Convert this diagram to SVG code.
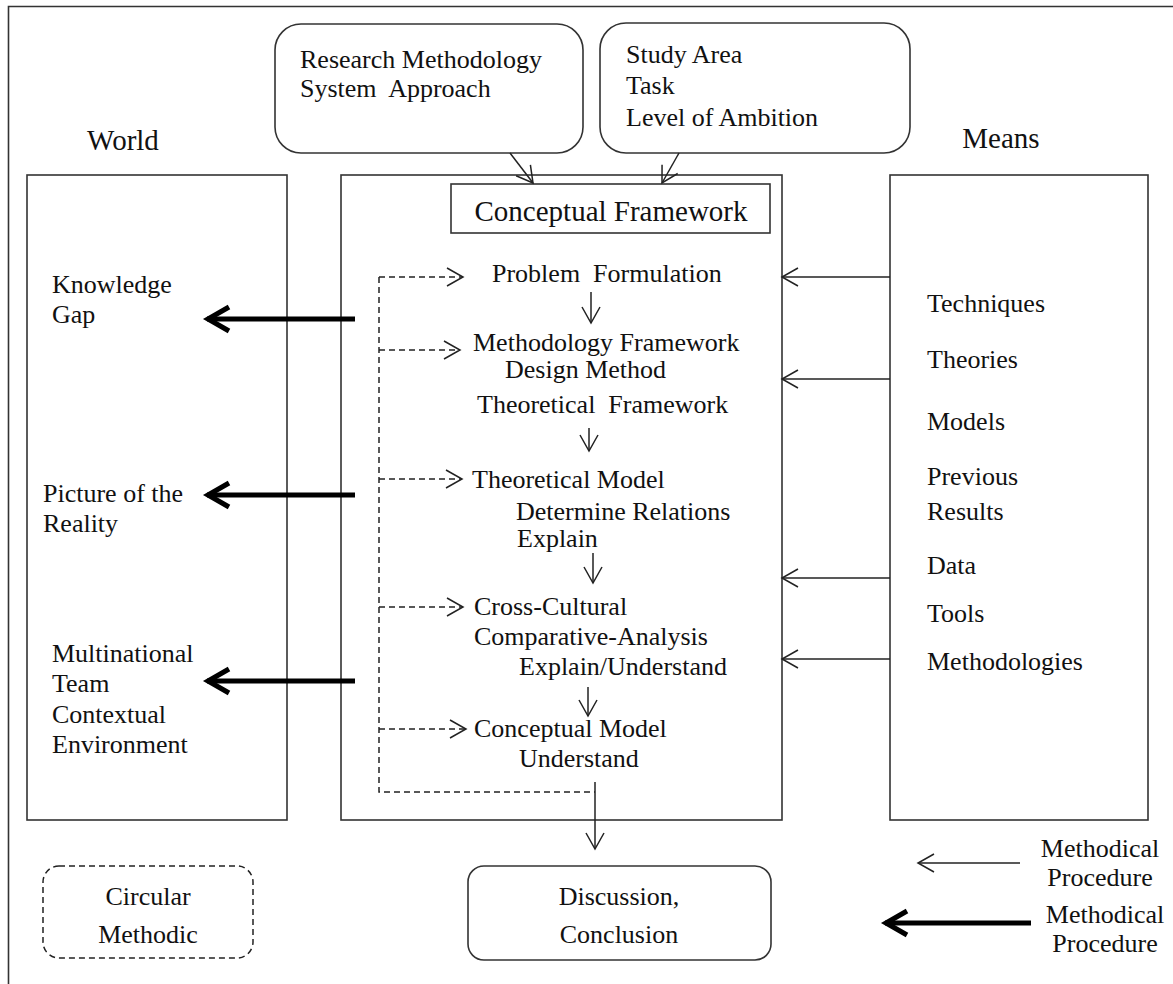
<svg xmlns="http://www.w3.org/2000/svg" width="1173" height="984" viewBox="0 0 1173 984">
<style>
text{font-family:"Liberation Serif","Times New Roman",serif;font-size:26px;fill:#111}
.box{fill:none;stroke:#333;stroke-width:1.6}
.ln{fill:none;stroke:#222;stroke-width:1.5}
.thick{fill:none;stroke:#000;stroke-width:5}
.dash{fill:none;stroke:#222;stroke-width:1.5;stroke-dasharray:6,4}
.mid{text-anchor:middle}
</style>
<defs>
<marker id="a" markerUnits="userSpaceOnUse" markerWidth="40" markerHeight="40" refX="0" refY="0" orient="auto" overflow="visible">
<path d="M-16,-9 L0,0 L-16,9" fill="none" stroke="#222" stroke-width="1.5"/>
</marker>
<marker id="t" markerUnits="userSpaceOnUse" markerWidth="60" markerHeight="60" refX="0" refY="0" orient="auto" overflow="visible">
<path d="M-22,-12 L-1,0 L-22,12" fill="none" stroke="#000" stroke-width="5"/>
</marker>
</defs>
<rect width="1173" height="984" fill="#fff"/>
<path class="box" d="M8.5,984 V6.5 H1173"/>

<g id="world">
<rect class="box" x="27" y="175" width="260" height="645"/>
<text x="123" y="150" class="mid" style="font-size:29px">World</text>
<text x="52" y="293">Knowledge</text>
<text x="52" y="323">Gap</text>
<text x="43" y="502">Picture of the</text>
<text x="43" y="532">Reality</text>
<text x="52" y="662">Multinational</text>
<text x="52" y="692">Team</text>
<text x="52" y="723">Contextual</text>
<text x="52" y="753">Environment</text>
</g>

<g id="means">
<rect class="box" x="890" y="175" width="258" height="645"/>
<text x="1001" y="148" class="mid" style="font-size:29px">Means</text>
<text x="927" y="312">Techniques</text>
<text x="927" y="368">Theories</text>
<text x="927" y="430">Models</text>
<text x="927" y="485">Previous</text>
<text x="927" y="520">Results</text>
<text x="927" y="574">Data</text>
<text x="927" y="622">Tools</text>
<text x="927" y="670">Methodologies</text>
</g>

<g id="research">
<rect class="box" x="275" y="24" width="308" height="129" rx="26"/>
<text x="300" y="68">Research Methodology</text>
<text x="300" y="97" xml:space="preserve">System  Approach</text>
</g>

<g id="study">
<rect class="box" x="600" y="23" width="310" height="130" rx="26"/>
<text x="626" y="63">Study Area</text>
<text x="626" y="94">Task</text>
<text x="626" y="126">Level of Ambition</text>
</g>

<g id="central">
<rect class="box" x="341" y="175" width="441" height="645"/>
</g>

<g id="framework">
<rect class="box" x="451" y="184" width="319" height="49"/>
<text x="611" y="221" class="mid" style="font-size:29px">Conceptual Framework</text>
</g>

<g id="steps">
<text x="492" y="282" xml:space="preserve">Problem  Formulation</text>
<text x="473" y="351">Methodology Framework</text>
<text x="505" y="378">Design Method</text>
<text x="477" y="413" xml:space="preserve">Theoretical  Framework</text>
<text x="472" y="488">Theoretical Model</text>
<text x="516" y="520">Determine Relations</text>
<text x="517" y="547">Explain</text>
<text x="474" y="615">Cross-Cultural</text>
<text x="474" y="645">Comparative-Analysis</text>
<text x="519" y="675">Explain/Understand</text>
<text x="474" y="737">Conceptual Model</text>
<text x="519" y="767">Understand</text>
</g>

<g id="circular">
<rect class="dash" x="43" y="866" width="210" height="92" rx="16"/>
<text x="148" y="905" class="mid">Circular</text>
<text x="148" y="943" class="mid">Methodic</text>
</g>

<g id="discussion">
<rect class="box" x="468" y="866" width="303" height="94" rx="16"/>
<text x="619" y="905" class="mid">Discussion,</text>
<text x="619" y="943" class="mid">Conclusion</text>
</g>

<g id="legend">
<text x="1100" y="857" class="mid">Methodical</text>
<text x="1100" y="886" class="mid">Procedure</text>
<text x="1105" y="923" class="mid">Methodical</text>
<text x="1105" y="952" class="mid">Procedure</text>
</g>

<g id="connectors">
<line class="ln" x1="510" y1="153" x2="533" y2="183" marker-end="url(#a)"/>
<line class="ln" x1="679" y1="153" x2="662" y2="183" marker-end="url(#a)"/>

<line class="ln" x1="591" y1="292" x2="591" y2="323" marker-end="url(#a)"/>
<line class="ln" x1="589" y1="428" x2="589" y2="451" marker-end="url(#a)"/>
<line class="ln" x1="593" y1="553" x2="593" y2="583" marker-end="url(#a)"/>
<line class="ln" x1="588" y1="687" x2="588" y2="716" marker-end="url(#a)"/>

<line class="ln" x1="890" y1="277" x2="782" y2="277" marker-end="url(#a)"/>
<line class="ln" x1="890" y1="379" x2="782" y2="379" marker-end="url(#a)"/>
<line class="ln" x1="890" y1="578" x2="782" y2="578" marker-end="url(#a)"/>
<line class="ln" x1="890" y1="659" x2="782" y2="659" marker-end="url(#a)"/>

<line class="thick" x1="355" y1="319" x2="207" y2="319" marker-end="url(#t)"/>
<line class="thick" x1="355" y1="495" x2="207" y2="495" marker-end="url(#t)"/>
<line class="thick" x1="355" y1="681" x2="207" y2="681" marker-end="url(#t)"/>

<path class="dash" d="M379,277 V792 H595"/>
<line class="dash" x1="379" y1="277" x2="463" y2="277" marker-end="url(#a)"/>
<line class="dash" x1="379" y1="350" x2="460" y2="350" marker-end="url(#a)"/>
<line class="dash" x1="379" y1="479" x2="462" y2="479" marker-end="url(#a)"/>
<line class="dash" x1="379" y1="607" x2="463" y2="607" marker-end="url(#a)"/>
<line class="dash" x1="379" y1="729" x2="466" y2="729" marker-end="url(#a)"/>

<line class="ln" x1="595" y1="782" x2="595" y2="849" marker-end="url(#a)"/>

<line class="ln" x1="1020" y1="863" x2="918" y2="863" marker-end="url(#a)"/>
<line class="thick" x1="1031" y1="923" x2="885" y2="923" marker-end="url(#t)"/>
</g>
</svg>
